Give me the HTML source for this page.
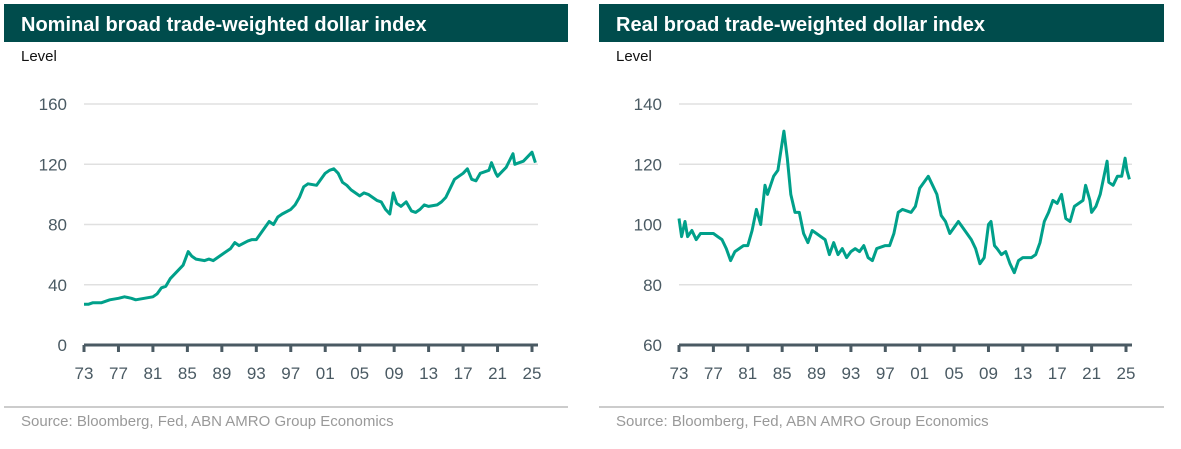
<!DOCTYPE html>
<html><head><meta charset="utf-8"><style>
body{margin:0;background:#fff;width:1181px;height:449px;overflow:hidden;font-family:"Liberation Sans",sans-serif}
svg{display:block}
</style></head><body>
<svg width="1181" height="449" id="svg">
<g id="left">
<rect x="4" y="4" width="564" height="38" fill="#004c4c"/>
<text x="21" y="31" fill="#fff" font-size="20" font-weight="bold">Nominal broad trade-weighted dollar index</text>
<text x="21" y="61" fill="#111" font-size="15">Level</text>
<line x1="4" y1="407" x2="568" y2="407" stroke="#ccc" stroke-width="2"/>
<text x="21" y="426" fill="#999" font-size="15">Source: Bloomberg, Fed, ABN AMRO Group Economics</text>
</g>
<g id="right">
<rect x="599" y="4" width="565" height="38" fill="#004c4c"/>
<text x="616" y="31" fill="#fff" font-size="20" font-weight="bold">Real broad trade-weighted dollar index</text>
<text x="616" y="61" fill="#111" font-size="15">Level</text>
<line x1="599" y1="407" x2="1164" y2="407" stroke="#ccc" stroke-width="2"/>
<text x="616" y="426" fill="#999" font-size="15">Source: Bloomberg, Fed, ABN AMRO Group Economics</text>
</g>
</svg>
<script>
const xTickLabels=["73","77","81","85","89","93","97","01","05","09","13","17","21","25"];
const nomTicks=[0,40,80,120,160];
const realTicks=[60,80,100,120,140];
const nomYears=[1973,1973.5,1974,1974.5,1975,1976,1977,1977.7,1978.5,1979,1980,1981,1981.5,1982,1982.5,1983,1984,1984.5,1985.1,1985.5,1986,1987,1987.5,1988,1988.5,1989,1990,1990.5,1991,1992,1992.5,1993,1994,1994.5,1995,1995.5,1996,1997,1997.5,1998,1998.5,1999,2000,2000.5,2001,2001.5,2002,2002.5,2003,2003.5,2004,2005,2005.5,2006,2007,2007.5,2008,2008.5,2008.9,2009.3,2009.8,2010.4,2011,2011.5,2012,2012.5,2013,2014,2014.5,2015,2015.5,2016,2016.5,2017,2017.5,2018,2018.5,2019,2020,2020.3,2020.8,2021,2021.5,2022,2022.8,2023,2023.5,2024,2024.5,2025,2025.4];
const nomVals=[27,27,28,28,28,30,31,32,31,30,31,32,34,38,39,44,50,53,62,59,57,56,57,56,58,60,64,68,66,69,70,70,78,82,80,85,87,90,93,98,105,107,106,110,114,116,117,114,108,106,103,99,101,100,96,95,90,87,101,94,92,95,89,88,90,93,92,93,95,98,104,110,112,114,117,110,109,114,116,121,114,112,115,118,127,120,121,122,125,128,121];
const realYears=[1973,1973.3,1973.7,1974,1974.5,1975,1975.5,1976,1977,1977.5,1978,1978.5,1979,1979.5,1980,1980.5,1981,1981.5,1982,1982.5,1983,1983.3,1984,1984.5,1985.2,1985.6,1986,1986.5,1987,1987.5,1988,1988.5,1989,1989.5,1990,1990.5,1991,1991.5,1992,1992.5,1993,1993.5,1994,1994.5,1995,1995.5,1996,1997,1997.5,1998,1998.5,1999,2000,2000.5,2001,2001.5,2002,2002.5,2003,2003.5,2004,2004.5,2005,2005.5,2006,2007,2007.5,2008,2008.5,2009,2009.3,2009.7,2010,2010.5,2011,2011.5,2012,2012.5,2013,2014,2014.5,2015,2015.5,2016,2016.5,2017,2017.5,2018,2018.5,2019,2020,2020.3,2020.8,2021,2021.5,2022,2022.8,2023,2023.5,2024,2024.5,2024.9,2025.1,2025.4];
const realVals=[102,96,101,96,98,95,97,97,97,96,95,92,88,91,92,93,93,98,105,100,113,110,116,118,131,122,110,104,104,97,94,98,97,96,95,90,94,90,92,89,91,92,91,93,89,88,92,93,93,97,104,105,104,106,112,114,116,113,110,103,101,97,99,101,99,95,92,87,89,100,101,93,92,90,91,87,84,88,89,89,90,94,101,104,108,107,110,102,101,106,108,113,108,104,106,110,121,114,113,116,116,122,118,115];
const NS="http://www.w3.org/2000/svg";
const svg=document.getElementById('svg');
function el(t,a,p){const e=document.createElementNS(NS,t);for(const k in a)e.setAttribute(k,a[k]);(p||svg).appendChild(e);return e;}
function chart(g,prefix,x0,x1,ticks,years,vals){
  const yTop=104,yBot=345,lo=ticks[0],hi=ticks[ticks.length-1];
  const xs=y=>x0+(y-1973)*(x1-x0)/52;
  const ys=v=>yBot-(v-lo)/(hi-lo)*(yBot-yTop);
  ticks.forEach(t=>{
    if(t!==lo){const l=el('line',{x1:x0,x2:x1+6,y1:ys(t),y2:ys(t),stroke:'#e0e0e0','stroke-width':1.5},g);
    
    }
    const tx=el('text',{x:x0-17,y:ys(t)+6,'text-anchor':'end','font-size':17,fill:'#4a5a63'},g);tx.textContent=t;
    
    
  });
  const ax=el('line',{x1:x0,x2:x1+6,y1:yBot,y2:yBot,stroke:'#4a5a63','stroke-width':3},g);
  
  
  xTickLabels.forEach((lab,i)=>{
    const x=xs(1973+i*4);
    const tk=el('line',{x1:x,x2:x,y1:yBot,y2:yBot+7,stroke:'#4a5a63','stroke-width':3},g);
    
    
    const tx=el('text',{x:x,y:yBot+34,'text-anchor':'middle','font-size':17,fill:'#4a5a63'},g);tx.textContent=lab;
    
    
  });
  const d=years.map((y,i)=>(i?'L':'M')+xs(y).toFixed(1)+','+ys(vals[i]).toFixed(1)).join('');
  const p=el('path',{d:d,fill:'none',stroke:'#00a08a','stroke-width':3,'stroke-linejoin':'round'},g);
  
  
}
chart(document.getElementById('left'),'nominal',84,532,nomTicks,nomYears,nomVals);
chart(document.getElementById('right'),'real',679,1126,realTicks,realYears,realVals);
</script>
</body></html>
